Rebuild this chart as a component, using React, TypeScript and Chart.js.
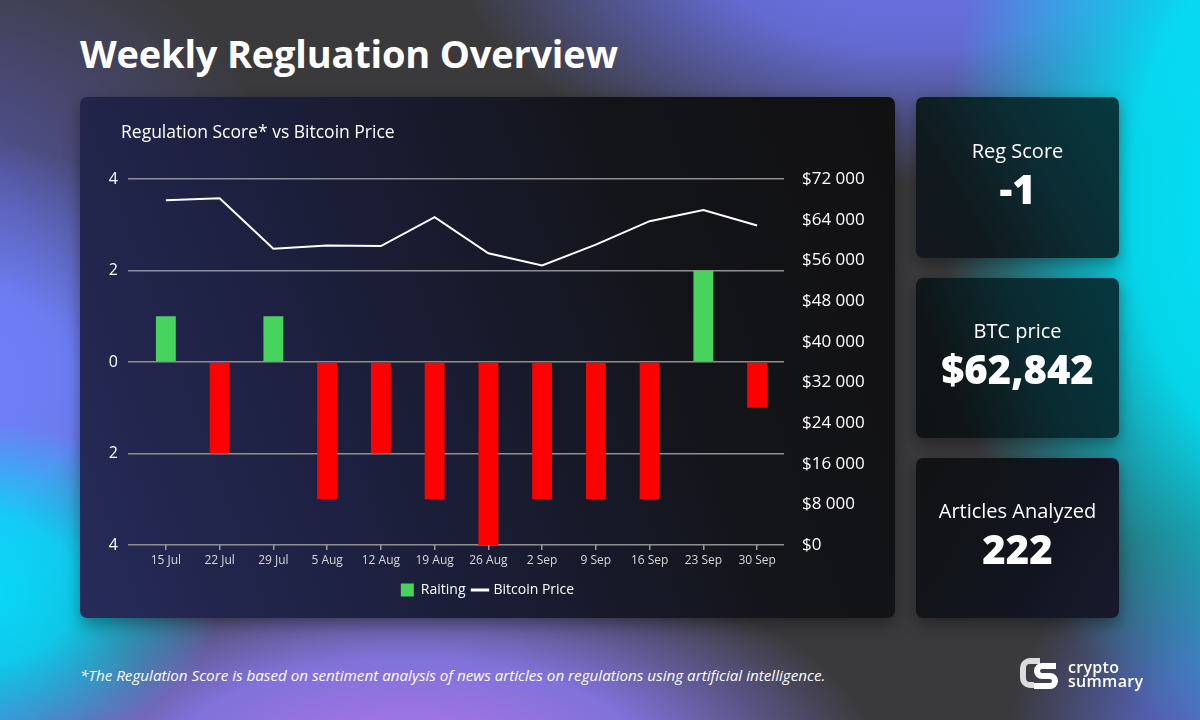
import React, { useEffect, useRef } from "react";
import { Chart, registerables } from "chart.js";

Chart.register(...registerables);

const weekLabels = ["15 Jul", "22 Jul", "29 Jul", "5 Aug", "12 Aug", "19 Aug", "26 Aug", "2 Sep", "9 Sep", "16 Sep", "23 Sep", "30 Sep"];
const ratings = [1, -2, 1, -3, -2, -3, -4, -3, -3, -3, 2, -1];
const btcPrices = [67800, 68200, 58300, 58900, 58800, 64500, 57400, 55000, 59100, 63700, 65900, 62842];
const scoreMin = -4;
const scoreMax = 4;
const scoreStep = 2;
const priceMin = 0;
const priceMax = 72000;
const priceStep = 8000;

const GREEN = "#46d35e";
const RED = "#ff0000";
const FONT = "'Open Sans', Lato, sans-serif";

function fmtPrice(v: number) {
  const s = Math.round(v).toString();
  return "$" + s.replace(/\B(?=(\d{3})+(?!\d))/g, " ");
}

function ChartPanel() {
  const ref = useRef<HTMLCanvasElement | null>(null);
  useEffect(() => {
    if (!ref.current) return;
    const chart = new Chart(ref.current, {
      type: "bar",
      data: {
        labels: weekLabels,
        datasets: [
          {
            type: "bar",
            label: "Raiting",
            data: ratings,
            backgroundColor: ratings.map((v) => (v >= 0 ? GREEN : RED)),
            borderWidth: 0,
            barPercentage: 0.37,
            categoryPercentage: 1,
            yAxisID: "y",
            order: 1,
          },
          {
            type: "line",
            label: "Bitcoin Price",
            data: btcPrices,
            borderColor: "#ffffff",
            backgroundColor: "#ffffff",
            borderWidth: 2,
            pointRadius: 0,
            tension: 0,
            yAxisID: "y1",
            order: 0,
          },
        ],
      },
      options: {
        responsive: false,
        animation: false,
        layout: { padding: { left: 0, right: 0, top: 82, bottom: 11 } },
        plugins: {
          tooltip: { enabled: false },
          title: { display: false },
          legend: {
            position: "bottom",
            labels: {
              color: "#ffffff",
              font: { family: FONT, size: 14 },
              boxWidth: 13,
              boxHeight: 13,
              padding: 8,
              usePointStyle: true,
              generateLabels: () => [
                { text: "Raiting", fillStyle: GREEN, strokeStyle: GREEN, lineWidth: 0, pointStyle: "rect", fontColor: "#ffffff", datasetIndex: 0, hidden: false },
                { text: "Bitcoin Price", fillStyle: "#ffffff", strokeStyle: "#ffffff", lineWidth: 3, pointStyle: "line", fontColor: "#ffffff", datasetIndex: 1, hidden: false },
              ] as any,
            },
          },
        },
        scales: {
          x: {
            offset: true,
            grid: { drawOnChartArea: false, drawTicks: true, tickLength: 5, color: "#9a9a9a", lineWidth: 1.5, offset: false },
            border: { display: false },
            ticks: { color: "#d8d8d8", font: { family: FONT, size: 12 }, padding: 3, maxRotation: 0, autoSkip: false },
            afterFit: (s: any) => { s.height = 30; },
          },
          y: {
            position: "left",
            min: scoreMin,
            max: scoreMax,
            ticks: { stepSize: scoreStep, color: "#ffffff", font: { family: FONT, size: 16 }, padding: 10, callback: (v: any) => String(Math.abs(Number(v))) },
            grid: { color: "#8f8f8f", lineWidth: 1.5, tickLength: 11 },
            border: { display: false },
            afterFit: (s: any) => { s.width = 59; },
          },
          y1: {
            position: "right",
            min: priceMin,
            max: priceMax,
            ticks: { stepSize: priceStep, color: "#ffffff", font: { family: FONT, size: 17 }, padding: 18, callback: (v: any) => fmtPrice(Number(v)) },
            grid: { display: false, drawTicks: false },
            border: { display: false },
            afterFit: (s: any) => { s.width = 111; },
          },
        },
      },
    } as any);
    return () => chart.destroy();
  }, []);
  return <canvas ref={ref} width={815} height={521} style={{ position: "absolute", left: 0, top: 0, width: 815, height: 521 }} />;
}

function Card({ top, height, label, value, valueSize, bg }: { top: number; height: number; label: string; value: string; valueSize: number; bg: string }) {
  return (
    <div
      style={{
        position: "absolute",
        left: 916,
        top,
        width: 203,
        height,
        borderRadius: 7,
        background: bg,
        boxShadow: "0 6px 16px rgba(0,0,0,0.35)",
        display: "flex",
        flexDirection: "column",
        alignItems: "center",
        justifyContent: "center",
        color: "#fff",
        fontFamily: FONT,
      }}
    >
      <div style={{ fontSize: 20, fontWeight: 500, lineHeight: "24px", marginTop: -6 }}>{label}</div>
      <div style={{ fontSize: valueSize, fontWeight: 800, lineHeight: `${valueSize + 4}px`, marginTop: 4 }}>{value}</div>
    </div>
  );
}

export default function App() {
  return (
    <div
      style={{
        position: "fixed",
        left: 0,
        top: 0,
        width: 1200,
        height: 720,
        overflow: "hidden",
        fontFamily: FONT,
        background: [
          "radial-gradient(ellipse 260px 170px at -3% 82%, rgba(6,220,253,1) 0%, rgba(6,220,253,0.85) 45%, rgba(6,220,253,0) 100%)",
          "radial-gradient(ellipse 320px 260px at -5% 55%, rgba(112,130,255,1) 0%, rgba(112,130,255,0.9) 45%, rgba(112,130,255,0) 100%)",
          "radial-gradient(ellipse 470px 210px at 34% 106%, rgba(180,116,234,1) 0%, rgba(140,124,245,0.85) 50%, rgba(130,124,245,0) 100%)",
          "radial-gradient(ellipse 340px 560px at 107% 28%, rgba(0,230,252,1) 0%, rgba(0,230,252,0.9) 45%, rgba(0,230,252,0) 100%)",
          "radial-gradient(ellipse 460px 240px at 76% -8%, rgba(109,118,244,1) 0%, rgba(109,118,244,0.8) 45%, rgba(109,118,244,0) 100%)",
          "radial-gradient(ellipse 240px 230px at 104% 104%, rgba(90,106,208,1) 0%, rgba(90,106,208,0.75) 45%, rgba(90,106,208,0) 100%)",
          "radial-gradient(ellipse 200px 160px at -3% 103%, rgba(70,140,225,1) 0%, rgba(70,140,225,0) 100%)",
          "radial-gradient(ellipse 340px 280px at -5% 28%, rgba(90,90,184,0.85), rgba(90,90,184,0) 100%)",
          "#3a3a3c",
        ].join(","),
      }}
    >
      <div style={{ position: "absolute", left: 80, top: 27, color: "#fff", fontSize: 38, fontWeight: 700, lineHeight: "52px", letterSpacing: -0.2 }}>
        Weekly Regluation Overview
      </div>

      <div
        style={{
          position: "absolute",
          left: 80,
          top: 97,
          width: 815,
          height: 521,
          borderRadius: 7,
          background: "linear-gradient(70deg, #262b5a 0%, #1c1f3c 35%, #131418 72%, #111112 100%)",
          boxShadow: "0 6px 16px rgba(0,0,0,0.35)",
          overflow: "hidden",
        }}
      >
        <ChartPanel />
        <div style={{ position: "absolute", left: 41, top: 22, color: "#fff", fontSize: 17.5, fontWeight: 500 }}>Regulation Score* vs Bitcoin Price</div>
      </div>

      <Card top={97} height={161} label="Reg Score" value="-1" valueSize={40}
        bg="linear-gradient(240deg, #063a40 0%, #0b2c33 40%, #10191d 75%, #141820 100%)" />
      <Card top={278} height={160} label="BTC price" value="$62,842" valueSize={40}
        bg="linear-gradient(250deg, #053840 0%, #0a2a30 45%, #0f1517 80%, #0f1214 100%)" />
      <Card top={458} height={160} label="Articles Analyzed" value="222" valueSize={40}
        bg="linear-gradient(300deg, #171a2c 0%, #121520 40%, #111316 80%, #101214 100%)" />

      <div style={{ position: "absolute", left: 80, top: 665, color: "#fff", fontSize: 15.2, fontStyle: "italic" }}>
        *The Regulation Score is based on sentiment analysis of news articles on regulations using artificial intelligence.
      </div>

      <div style={{ position: "absolute", left: 1020, top: 657, display: "flex", alignItems: "center" }}>
        <svg width="40" height="34" viewBox="0 0 40 34">
          <path d="M20 4 H10 A7 7 0 0 0 3 11 V21 A7 7 0 0 0 10 28 H14" stroke="#dcdcdc" strokeWidth="6" fill="none" />
          <path d="M36 9 H22 A5 5 0 0 0 22 19 H30 A5 5 0 0 1 30 29 H14" stroke="#ffffff" strokeWidth="6" fill="none" />
        </svg>
        <div style={{ marginLeft: 8, color: "#fff", fontSize: 16, lineHeight: "14px", fontWeight: 600, letterSpacing: 0.3 }}>
          <div>crypto</div>
          <div>summary</div>
        </div>
      </div>
    </div>
  );
}
